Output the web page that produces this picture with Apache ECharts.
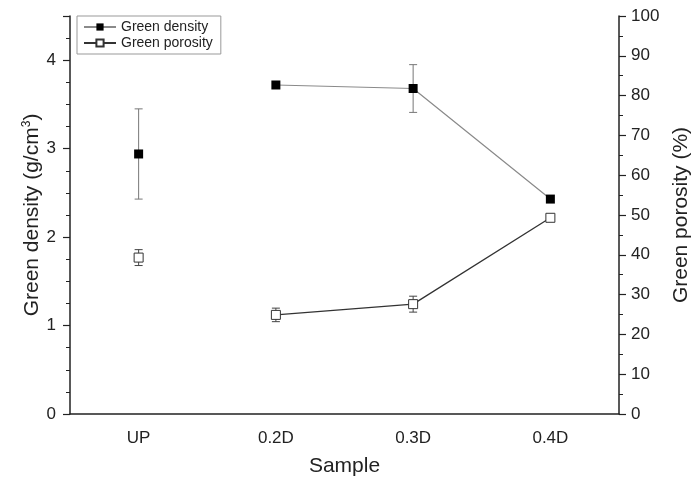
<!DOCTYPE html>
<html>
<head>
<meta charset="utf-8">
<script src="https://cdn.jsdelivr.net/npm/echarts@6/dist/echarts.min.js"></script>
<style>html,body{margin:0;padding:0;background:#fff}#c{width:691px;height:484px}</style>
</head>
<body>
<div id="c"></div>
<script>
var categories = ['UP', '0.2D', '0.3D', '0.4D'];
var densityValues = [2.94, 3.72, 3.68, 2.43];
var densityErr = [0.51, 0, 0.27, 0];
var porosityValues = [39.3, 24.9, 27.6, 49.3];
var porosityErr = [2.0, 1.7, 2.0, 0.5];
var connected = [false, true, true, true];
var densityTicks = [0, 1, 2, 3, 4];
var porosityTicks = [0, 10, 20, 30, 40, 50, 60, 70, 80, 90, 100];

var FONT = 'Liberation Sans, Arial, sans-serif';

function lineData(vals){ return vals.map(function(v,i){ return connected[i] ? v : '-'; }); }
function loneData(vals){ return vals.map(function(v,i){ return connected[i] ? '-' : v; }); }
function errData(vals, errs){ return vals.map(function(v,i){ return [i, v - errs[i], v + errs[i]]; }); }
function errRender(color){
  return function(params, api){
    var x = api.value(0);
    var lo = api.coord([x, api.value(1)]);
    var hi = api.coord([x, api.value(2)]);
    if (Math.abs(lo[1]-hi[1]) < 1) return null;
    var w = 4;
    var st = {stroke: color, lineWidth: 1};
    return {type:'group', children:[
      {type:'line', shape:{x1:lo[0], y1:lo[1], x2:hi[0], y2:hi[1]}, style:st},
      {type:'line', shape:{x1:lo[0]-w, y1:lo[1], x2:lo[0]+w, y2:lo[1]}, style:st},
      {type:'line', shape:{x1:hi[0]-w, y1:hi[1], x2:hi[0]+w, y2:hi[1]}, style:st}
    ]};
  };
}

var chart = echarts.init(document.getElementById('c'), null, {renderer:'canvas'});
var densStyle = {color:'#000', borderColor:'#000', borderWidth:0};
var poroStyle = {color:'#fff', borderColor:'#333', borderWidth:1};
chart.setOption({
  animation:false,
  textStyle:{fontFamily:FONT},
  grid:{left:70, right:72, top:16, bottom:70, containLabel:false, outerBoundsMode:'none'},
  legend:{
    left:77, top:16, orient:'vertical', itemGap:2, itemWidth:32, itemHeight:9,
    padding:[4,8,4,6], borderColor:'#999', borderWidth:1,
    textStyle:{fontFamily:FONT, fontSize:14, color:'#222'},
    data:['Green density','Green porosity']
  },
  xAxis:{
    type:'category', data:categories, boundaryGap:true,
    name:'Sample', nameLocation:'middle', nameGap:42, nameMoveOverlap:false,
    nameTextStyle:{fontFamily:FONT, fontSize:21, color:'#222'},
    axisLine:{lineStyle:{color:'#222', width:1.5}},
    axisTick:{alignWithLabel:true, length:7, lineStyle:{color:'#222', width:1.2}},
    axisLabel:{fontFamily:FONT, fontSize:17, color:'#222', margin:16},
    splitLine:{show:false}
  },
  yAxis:[{
    type:'value', min:0, max:4.5, interval:1, position:'left',
    name:'{a|Green density (g/cm}{s|3}{a|)}', nameLocation:'middle', nameGap:27, nameRotate:90, nameMoveOverlap:false,
    nameTextStyle:{rich:{a:{fontFamily:FONT, fontSize:21, color:'#222'}, s:{fontFamily:FONT, fontSize:12, color:'#222', verticalAlign:'top', padding:[0,0,10,0]}}},
    axisLine:{show:true, lineStyle:{color:'#222', width:1.5}},
    axisTick:{show:true, length:7, lineStyle:{color:'#222', width:1.2}},
    minorTick:{show:true, splitNumber:4, length:4, lineStyle:{color:'#222', width:1}},
    axisLabel:{fontFamily:FONT, fontSize:17, color:'#222', margin:14, showMaxLabel:false,
      formatter:function(v){ return densityTicks.indexOf(v) >= 0 ? String(v) : ''; }},
    splitLine:{show:false}
  },{
    type:'value', min:0, max:100, interval:10, position:'right',
    name:'Green porosity (%)', nameLocation:'middle', nameGap:52, nameRotate:90, nameMoveOverlap:false,
    nameTextStyle:{fontFamily:FONT, fontSize:21, color:'#222'},
    axisLine:{show:true, lineStyle:{color:'#222', width:1.5}},
    axisTick:{show:true, length:7, lineStyle:{color:'#222', width:1.2}},
    minorTick:{show:true, splitNumber:2, length:4, lineStyle:{color:'#222', width:1}},
    axisLabel:{fontFamily:FONT, fontSize:17, color:'#222', margin:12,
      formatter:function(v){ return porosityTicks.indexOf(v) >= 0 ? String(v) : ''; }},
    splitLine:{show:false}
  }],
  series:[
    {type:'custom', name:'dErr', yAxisIndex:0, renderItem:errRender('#777'), data:errData(densityValues, densityErr), z:1, silent:true},
    {type:'custom', name:'pErr', yAxisIndex:1, renderItem:errRender('#444'), data:errData(porosityValues, porosityErr), z:1, silent:true},
    {type:'line', name:'Green density', yAxisIndex:0, data:lineData(densityValues), symbol:'rect', symbolSize:9,
      lineStyle:{color:'#8a8a8a', width:1.2}, itemStyle:densStyle, z:3},
    {type:'line', name:'Green density', yAxisIndex:0, data:loneData(densityValues), symbol:'rect', symbolSize:9,
      lineStyle:{color:'#8a8a8a', width:1.2}, itemStyle:densStyle, z:3},
    {type:'line', name:'Green porosity', yAxisIndex:1, data:lineData(porosityValues), symbol:'rect', symbolSize:9,
      lineStyle:{color:'#333', width:1.3}, itemStyle:poroStyle, z:3},
    {type:'line', name:'Green porosity', yAxisIndex:1, data:loneData(porosityValues), symbol:'rect', symbolSize:9,
      lineStyle:{color:'#333', width:1.3}, itemStyle:poroStyle, z:3}
  ]
});
</script>
</body>
</html>
